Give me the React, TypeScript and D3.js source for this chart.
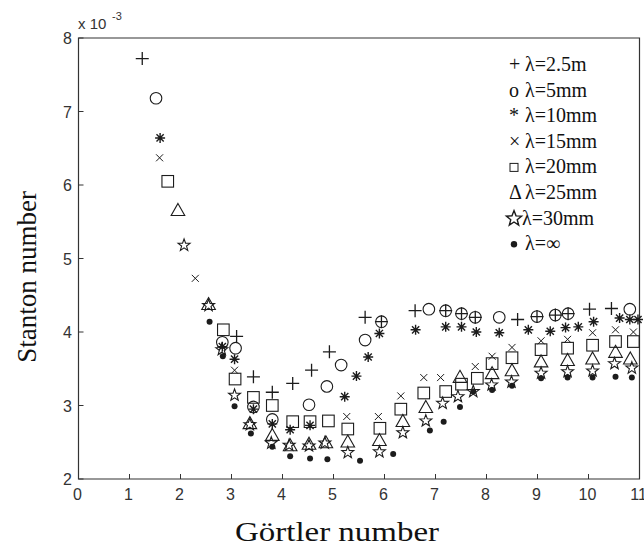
import React from "react";
import * as d3 from "d3";

// Görtler number (x) and Stanton number ×10^-3 (y)
const seriesNames = ["2.5m", "5mm", "10mm", "15mm", "20mm", "25mm", "30mm", "inf"];

const plus25m: [number, number][] = [
  [1.25, 7.72], [3.1, 3.94], [3.43, 3.39], [3.8, 3.18], [4.2, 3.3], [4.57, 3.48], [4.92, 3.73],
  [5.62, 4.2], [5.94, 4.14], [6.6, 4.29], [7.2, 4.29], [7.51, 4.25], [7.78, 4.2], [8.61, 4.17],
  [8.99, 4.21], [9.35, 4.23], [9.6, 4.25], [10.02, 4.31], [10.45, 4.32],
];
const circle5mm: [number, number][] = [
  [1.52, 7.18], [2.82, 3.86], [3.08, 3.78], [3.43, 2.98], [3.8, 2.81], [4.52, 3.01], [4.87, 3.26],
  [5.15, 3.55], [5.62, 3.89], [5.94, 4.14], [6.87, 4.31], [7.2, 4.29], [7.51, 4.25], [7.78, 4.2],
  [8.25, 4.2], [8.99, 4.21], [9.35, 4.23], [9.6, 4.25], [10.81, 4.31],
];
const star10mm: [number, number][] = [
  [1.6, 6.64], [2.82, 3.8], [3.06, 3.63], [3.43, 2.95], [3.8, 2.75], [4.15, 2.67], [4.54, 2.73],
  [5.22, 3.12], [5.45, 3.4], [5.68, 3.66], [5.9, 3.98], [6.61, 4.03], [7.2, 4.07], [7.51, 4.07],
  [7.8, 4.0], [8.25, 3.99], [8.82, 4.03], [9.25, 4.01], [9.55, 4.06], [9.8, 4.07], [10.1, 4.14],
  [10.61, 4.19], [10.81, 4.17], [10.97, 4.17],
];
const cross15mm: [number, number][] = [
  [1.59, 6.37], [2.29, 4.73], [3.06, 3.48], [5.26, 2.85], [5.88, 2.85], [6.32, 3.13], [6.77, 3.38],
  [7.1, 3.38], [7.78, 3.53], [8.11, 3.67], [8.5, 3.79], [9.07, 3.88], [9.59, 3.9], [10.08, 3.99],
  [10.53, 4.03], [10.88, 4.0],
];
const square20mm: [number, number][] = [
  [1.75, 6.05], [2.84, 4.03], [3.07, 3.36], [3.43, 3.11], [3.8, 3.0], [4.2, 2.78], [4.54, 2.78],
  [4.9, 2.79], [5.28, 2.68], [5.91, 2.69], [6.32, 2.95], [6.77, 3.17], [7.2, 3.19], [7.51, 3.29],
  [7.82, 3.37], [8.11, 3.57], [8.5, 3.65], [9.07, 3.76], [9.59, 3.78], [10.08, 3.82], [10.53, 3.87],
  [10.88, 3.87],
];
const triangle25mm: [number, number][] = [
  [1.95, 5.66], [2.55, 4.38], [3.36, 2.76], [3.8, 2.6], [4.15, 2.46], [4.52, 2.48], [4.85, 2.5],
  [5.28, 2.51], [5.9, 2.53], [6.36, 2.79], [6.81, 2.98], [7.48, 3.39], [8.11, 3.44], [8.5, 3.48],
  [9.07, 3.6], [9.59, 3.62], [10.08, 3.64], [10.53, 3.73], [10.82, 3.64],
];
const pentagram30mm: [number, number][] = [
  [2.07, 5.18], [2.55, 4.36], [2.81, 3.76], [3.06, 3.14], [3.36, 2.74], [3.78, 2.49], [4.13, 2.46],
  [4.52, 2.45], [4.83, 2.49], [5.28, 2.36], [5.9, 2.37], [6.36, 2.63], [6.81, 2.79], [7.14, 3.03],
  [7.44, 3.12], [7.74, 3.19], [8.1, 3.28], [8.49, 3.32], [9.07, 3.44], [9.59, 3.46], [10.08, 3.47],
  [10.51, 3.57], [10.85, 3.51],
];
const dotInf: [number, number][] = [
  [2.57, 4.14], [2.83, 3.67], [3.06, 2.99], [3.38, 2.62], [3.8, 2.44], [4.15, 2.31], [4.54, 2.28],
  [4.88, 2.27], [5.52, 2.25], [6.17, 2.34], [6.89, 2.66], [7.16, 2.78], [7.48, 2.98], [7.74, 3.19],
  [8.11, 3.21], [8.5, 3.27], [9.07, 3.37], [9.59, 3.38], [10.08, 3.38], [10.53, 3.39], [10.85, 3.38],
];

const xTicks = [0, 1, 2, 3, 4, 5, 6, 7, 8, 9, 10, 11];
const yTicks = [2, 3, 4, 5, 6, 7, 8];
const legendSymbols = ["+", "o", "*", "×", "square", "Δ", "star", "dot"];
const legendLabels = ["λ=2.5m", "λ=5mm", "λ=10mm", "λ=15mm", "λ=20mm", "λ=25mm", "λ=30mm", "λ=∞"];

const INK = "#1c1c1c";

function starPath(r: number, ri: number) {
  const pts: string[] = [];
  for (let i = 0; i < 10; i++) {
    const a = -Math.PI / 2 + (i * Math.PI) / 5;
    const rr = i % 2 === 0 ? r : ri;
    pts.push(`${(rr * Math.cos(a)).toFixed(2)},${(rr * Math.sin(a)).toFixed(2)}`);
  }
  return "M" + pts.join("L") + "Z";
}

function Marker({ kind, x, y }: { kind: string; x: number; y: number }) {
  const t = `translate(${x},${y})`;
  const sw = 1.1;
  switch (kind) {
    case "plus":
      return <path transform={t} d="M-6.5,0H6.5M0,-6.5V6.5" stroke={INK} strokeWidth={1.3} fill="none" />;
    case "circle":
      return <circle cx={x} cy={y} r={5.8} stroke={INK} strokeWidth={sw} fill="none" />;
    case "asterisk":
      return (
        <path transform={t} d="M-5,0H5M0,-5V5M-3.6,-3.6L3.6,3.6M-3.6,3.6L3.6,-3.6" stroke={INK} strokeWidth={1.4} fill="none" />
      );
    case "cross":
      return <path transform={t} d="M-3.5,-3.5L3.5,3.5M-3.5,3.5L3.5,-3.5" stroke={INK} strokeWidth={1} fill="none" />;
    case "square":
      return <rect x={x - 5.8} y={y - 5.8} width={11.6} height={11.6} stroke={INK} strokeWidth={sw} fill="none" />;
    case "triangle":
      return <path transform={t} d="M0,-6.5L6.8,5.5L-6.8,5.5Z" stroke={INK} strokeWidth={sw} fill="none" />;
    case "star":
      return <path transform={t} d={starPath(6.3, 2.6)} stroke={INK} strokeWidth={1.1} fill="none" />;
    case "dot":
      return <circle cx={x} cy={y} r={3} fill={INK} />;
    default:
      return null;
  }
}

export default function App() {
  const W = 644;
  const H = 553;
  const x = d3.scaleLinear().domain([0, 11]).range([78.5, 639.5]);
  const y = d3.scaleLinear().domain([2, 8]).range([479, 38]);

  const series: { name: string; kind: string; data: [number, number][] }[] = [
    { name: seriesNames[0], kind: "plus", data: plus25m },
    { name: seriesNames[1], kind: "circle", data: circle5mm },
    { name: seriesNames[2], kind: "asterisk", data: star10mm },
    { name: seriesNames[3], kind: "cross", data: cross15mm },
    { name: seriesNames[4], kind: "square", data: square20mm },
    { name: seriesNames[5], kind: "triangle", data: triangle25mm },
    { name: seriesNames[6], kind: "star", data: pentagram30mm },
    { name: seriesNames[7], kind: "dot", data: dotInf },
  ];

  const [x0, x1] = x.range();
  const [yb, yt] = y.range();
  const tickFont = "Liberation Sans, Arial, sans-serif";
  const serif = "Liberation Serif, Times New Roman, serif";

  return (
    <svg width={W} height={H} style={{ position: "absolute", left: 0, top: 0, background: "#fff" }}>
      <rect x={0} y={0} width={W} height={H} fill="#fff" />
      {/* axes box */}
      <path d={`M${x0},${yt}H${x1}V${yb}H${x0}Z`} fill="none" stroke="#333" strokeWidth={1.2} />
      {xTicks.map((v) => (
        <g key={"xt" + v}>
          <line x1={x(v)} x2={x(v)} y1={yb} y2={yb - 5} stroke="#333" strokeWidth={1} />
          <text x={x(v) - 1} y={500} fontFamily={tickFont} fontSize={16} fill="#333" textAnchor="middle">
            {v}
          </text>
        </g>
      ))}
      {yTicks.map((v) => (
        <g key={"yt" + v}>
          <line x1={x0} x2={x0 + 5} y1={y(v)} y2={y(v)} stroke="#333" strokeWidth={1} />
          <text x={72} y={y(v) + 6} fontFamily={tickFont} fontSize={16} fill="#333" textAnchor="end">
            {v}
          </text>
        </g>
      ))}
      <text x={78} y={29} fontFamily={tickFont} fontSize={15} fill="#333">
        x 10
      </text>
      <text x={112} y={20} fontFamily={tickFont} fontSize={11} fill="#333">
        -3
      </text>

      {/* axis labels */}
      <text
        transform="translate(36,277) rotate(-90)"
        textAnchor="middle"
        fontFamily={serif}
        fontSize={27}
        fill="#111"
      >
        Stanton number
      </text>
      <text
        x={337}
        y={541}
        textAnchor="middle"
        fontFamily={serif}
        fontSize={28}
        fill="#111"
        textLength={204}
        lengthAdjust="spacingAndGlyphs"
      >
        Görtler number
      </text>

      {/* data */}
      {series.map((s) => (
        <g key={s.name}>
          {s.data.map((d, i) => (
            <Marker key={i} kind={s.kind} x={x(d[0])} y={y(d[1])} />
          ))}
        </g>
      ))}

      {/* legend */}
      {legendLabels.map((lab, i) => {
        const by = 71 + i * 25.6;
        const sym = legendSymbols[i];
        let symEl: React.ReactNode;
        let tx = sym === "star" ? 522 : 525;
        if (sym === "star") {
          symEl = <path transform={`translate(514,${by - 6})`} d={starPath(8, 3.4)} stroke={INK} strokeWidth={1.4} fill="none" />;
        } else if (sym === "square") {
          symEl = <rect x={510} y={by - 10} width={8} height={8} stroke={INK} strokeWidth={1} fill="none" />;
        } else if (sym === "dot") {
          symEl = <circle cx={514} cy={by - 6} r={3.2} fill={INK} />;
        } else {
          symEl = (
            <text x={509} y={by} fontFamily={serif} fontSize={20} fill="#111">
              {sym}
            </text>
          );
        }
        return (
          <g key={lab}>
            {symEl}
            <text x={tx} y={by} fontFamily={serif} fontSize={20} fill="#111">
              {lab}
            </text>
          </g>
        );
      })}
    </svg>
  );
}
